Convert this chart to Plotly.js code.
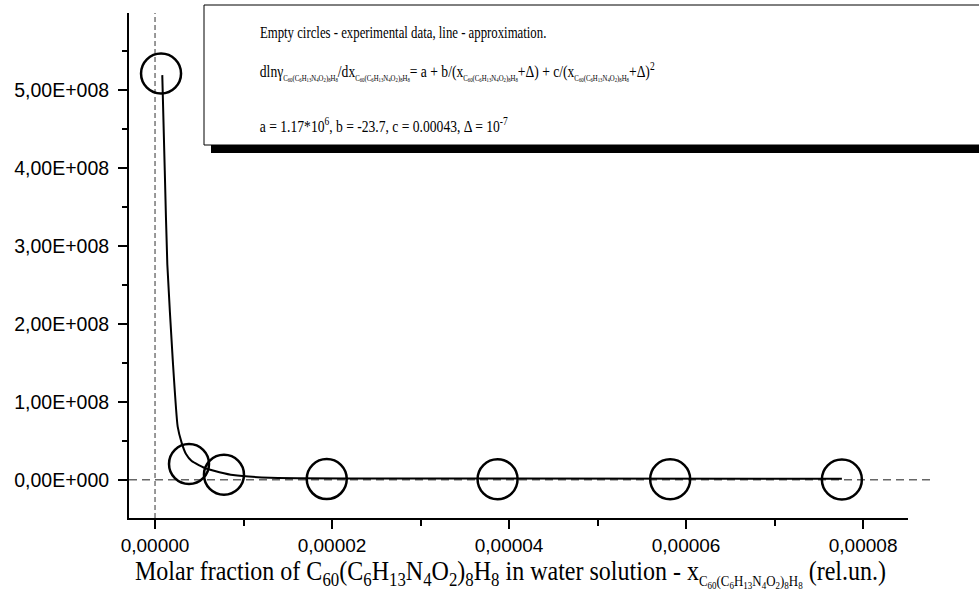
<!DOCTYPE html>
<html>
<head>
<meta charset="utf-8">
<script src="https://cdn.plot.ly/plotly-3.0.1.min.js"></script>
<style>html,body{margin:0;padding:0;background:#fff;}#chart{width:979px;height:592px;}</style>
</head>
<body>
<div id="chart"></div>
<script>
// Experimental data (empty circles)
const xData = [6.8e-7, 3.84e-6, 7.79e-6, 1.94e-5, 3.87e-5, 5.82e-5, 7.76e-5];
const yData = [5.21e8, 2.01e7, 6.4e6, 8e5, 6e5, 5e5, 4e5];
// Approximation line
const xFit = [8.2e-7, 1.10e-6, 1.39e-6, 2.0e-6, 2.56e-6, 3.02e-6, 3.5e-6, 4.14e-6, 5.84e-6, 8.81e-6, 1.30e-5, 2.77e-5, 7.76e-5];
const yFit = [5.19e8, 3.97e8, 2.76e8, 1.54e8, 6.8e7, 4.7e7, 3.3e7, 2.4e7, 1.4e7, 6.0e6, 2.6e6, 1.6e6, 1.3e6];
// Ticks
const xTickVals = [0, 2e-5, 4e-5, 6e-5, 8e-5];
const xTickText = ['0,00000', '0,00002', '0,00004', '0,00006', '0,00008'];
const xMinorVals = [1e-5, 3e-5, 5e-5, 7e-5];
const yTickVals = [0, 1e8, 2e8, 3e8, 4e8, 5e8];
const yTickText = ['0,00E+000', '1,00E+008', '2,00E+008', '3,00E+008', '4,00E+008', '5,00E+008'];
const yMinorVals = [0.5e8, 1.5e8, 2.5e8, 3.5e8, 4.5e8, 5.5e8];
const xRange = [-2.94e-6, 8.507e-5];
const yRange = [-0.491e8, 5.987e8];

function chain(sz) {
  return '<span style="font-size:' + sz + 'px">C<sub>60</sub>(C<sub>6</sub>H<sub>13</sub>N<sub>4</sub>O<sub>2</sub>)<sub>8</sub>H<sub>8</sub></span>';
}
const legendLine1 = 'Empty circles - experimental data, line - approximation.';
const legendLine2 = 'dlnγ<sub>' + chain(8.5) + '</sub>/dx<sub>' + chain(8.5) + '</sub>= a + b/(x<sub>' + chain(8.5) +
  '</sub>+Δ) + c/(x<sub>' + chain(8.5) + '</sub>+Δ)<sup>2</sup>';
const legendLine3 = 'a = 1.17*10<sup>6</sup>, b = -23.7, c = 0.00043, Δ = 10<sup>-7</sup>';
const xTitle = 'Molar fraction of C<sub>60</sub>(C<sub>6</sub>H<sub>13</sub>N<sub>4</sub>O<sub>2</sub>)<sub>8</sub>H<sub>8</sub> in water solution - x<sub>' +
  chain(14.5) + '</sub> (rel.un.)';

const serif = 'Liberation Serif, Times New Roman, serif';
const sans = 'Liberation Sans, Arial, sans-serif';

const W = 979, H = 592;
const mL = 129, mR = 71, mT = 13, mB = 74;
const pw = W - mL - mR, ph = H - mT - mB;
function px2paperX(p) { return (p - mL) / pw; }
function px2paperY(p) { return (H - mB - p) / ph; }
const zeroYPaper = (0 - yRange[0]) / (yRange[1] - yRange[0]);

const traces = [
  {
    x: xFit, y: yFit, type: 'scatter', mode: 'lines',
    line: {color: 'black', width: 2, shape: 'spline', smoothing: 0.5}, hoverinfo: 'skip'
  },
  {
    x: xData, y: yData, type: 'scatter', mode: 'markers',
    marker: {symbol: 'circle-open', size: 40, color: 'black', line: {color: 'black', width: 2.5}}
  }
];

// horizontal squeeze of each annotation (the reference text is condensed)
const annScaleX = [0.8, 0.8, 0.8, 0.89];

const layout = {
  width: W, height: H,
  margin: {l: mL, r: mR, t: mT, b: mB},
  showlegend: false,
  paper_bgcolor: 'white', plot_bgcolor: 'white',
  xaxis: {
    range: xRange, showgrid: false, zeroline: false,
    showline: true, linecolor: 'black', linewidth: 2,
    tickmode: 'array', tickvals: xTickVals, ticktext: xTickText,
    ticks: 'outside', ticklen: 9, tickwidth: 2, tickcolor: 'black',
    tickfont: {family: sans, size: 19, color: 'black'},
    minor: {tickmode: 'array', tickvals: xMinorVals, ticks: 'outside', ticklen: 6, tickwidth: 2, tickcolor: 'black', showgrid: false}
  },
  yaxis: {
    range: yRange, showgrid: false, zeroline: false,
    showline: true, linecolor: 'black', linewidth: 2,
    tickmode: 'array', tickvals: yTickVals, ticktext: yTickText,
    ticks: 'outside', ticklen: 9, tickwidth: 2, tickcolor: 'black', ticklabelstandoff: 5,
    tickfont: {family: sans, size: 19.5, color: 'black'},
    minor: {tickmode: 'array', tickvals: yMinorVals, ticks: 'outside', ticklen: 5, tickwidth: 2, tickcolor: 'black', showgrid: false}
  },
  shapes: [
    {type: 'line', xref: 'x', yref: 'paper', x0: 0, x1: 0, y0: 0, y1: 1,
     line: {color: '#333', width: 1, dash: '5px,3px'}, layer: 'below'},
    {type: 'line', xref: 'paper', yref: 'paper', x0: 0, x1: px2paperX(935), y0: zeroYPaper, y1: zeroYPaper,
     line: {color: '#666', width: 1.5, dash: '8px,5px'}, layer: 'below'},
    {type: 'rect', xref: 'paper', yref: 'paper', x0: px2paperX(211), x1: px2paperX(1000), y0: px2paperY(153), y1: px2paperY(13),
     fillcolor: 'black', line: {width: 0}, layer: 'above'},
    {type: 'rect', xref: 'paper', yref: 'paper', x0: px2paperX(204), x1: px2paperX(995), y0: px2paperY(145), y1: px2paperY(5),
     fillcolor: 'white', line: {color: 'black', width: 1}, layer: 'above'}
  ],
  annotations: [
    {text: legendLine1, xref: 'paper', yref: 'paper', x: px2paperX(258), y: px2paperY(33), xanchor: 'left', yanchor: 'middle',
     showarrow: false, font: {family: serif, size: 16, color: 'black'}},
    {text: legendLine2, xref: 'paper', yref: 'paper', x: px2paperX(258), y: px2paperY(71), xanchor: 'left', yanchor: 'middle',
     showarrow: false, font: {family: serif, size: 17, color: 'black'}},
    {text: legendLine3, xref: 'paper', yref: 'paper', x: px2paperX(258), y: px2paperY(125), xanchor: 'left', yanchor: 'middle',
     showarrow: false, font: {family: serif, size: 17, color: 'black'}},
    {text: xTitle, xref: 'paper', yref: 'paper', x: px2paperX(133), y: px2paperY(573), xanchor: 'left', yanchor: 'middle',
     showarrow: false, font: {family: serif, size: 27, color: 'black'}}
  ]
};

Plotly.newPlot('chart', traces, layout, {staticPlot: true, displayModeBar: false}).then(function (gd) {
  const groups = gd.querySelectorAll('.annotation');
  groups.forEach(function (g, i) {
    const s = annScaleX[i];
    if (!s) return;
    const t = g.querySelector('.annotation-text-g');
    if (!t) return;
    const bb = t.getBBox();
    const x0 = bb.x;
    const prev = t.getAttribute('transform') || '';
    t.setAttribute('transform', prev + ' translate(' + x0 + ',0) scale(' + s + ',1) translate(' + (-x0) + ',0)');
  });
});
</script>
</body>
</html>
